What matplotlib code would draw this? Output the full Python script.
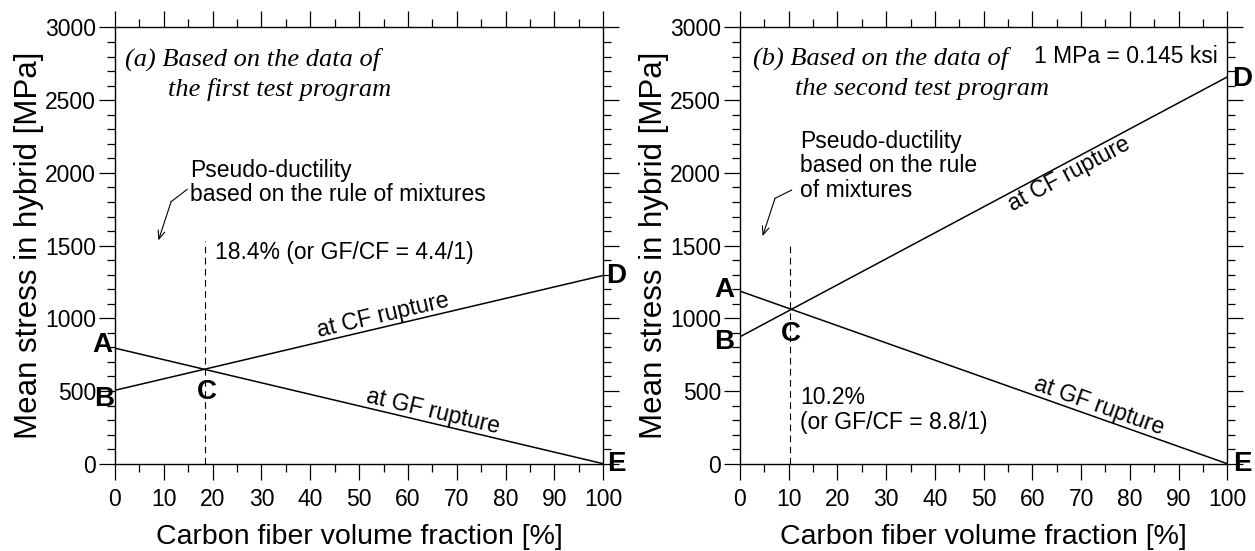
import numpy as np
import matplotlib.pyplot as plt

plt.rcParams['font.family'] = ['Liberation Sans', 'DejaVu Sans']

# carbon fiber volume fraction [%] at the ends of each line
vf = [0, 100]

# (a) first test program
gf_a = [795, 0]       # at GF rupture: A -> E
cf_a = [505, 1295]    # at CF rupture: B -> D
vc_a = 18.4

# (b) second test program
gf_b = [1187, 0]
cf_b = [873, 2660]
vc_b = 10.2

xticks = np.arange(0, 101, 10)
yticks = np.arange(0, 3001, 500)

fig = plt.figure(figsize=(12.55, 5.51), dpi=100)
ax1 = fig.add_axes([0.0916, 0.1584, 0.3891, 0.7917])
ax2 = fig.add_axes([0.5896, 0.1584, 0.3883, 0.7917])

serif = ['Liberation Serif', 'DejaVu Serif']


def style(ax):
    ax.set_xlim(0, 100)
    ax.set_ylim(0, 3000)
    ax.set_xticks(xticks)
    ax.set_xticks(np.arange(0, 101, 5), minor=True)
    ax.set_yticks(yticks)
    ax.set_yticks(np.arange(0, 3001, 100), minor=True)
    ax.tick_params(which='both', direction='out', top=True, right=True,
                   width=0.9, colors='black', labelsize=16.5)
    ax.tick_params(which='major', length=11.5, pad=2)
    ax.tick_params(which='minor', length=5.8)
    ax.tick_params(axis='x', which='major', pad=6)
    for s in ax.spines.values():
        s.set_linewidth(1.0)
    ax.set_xlabel('Carbon fiber volume fraction [%]', fontsize=20.5)
    ax.set_ylabel('Mean stress in hybrid [MPa]', fontsize=22.5)
    ax.xaxis.set_label_coords(0.5, -0.138)
    ax.yaxis.set_label_coords(-0.145, 0.5)


def slope_text(ax, txt, x, ys, below=False):
    # label placed along a straight line
    k = (ys[1] - ys[0]) / (vf[1] - vf[0])
    y = ys[0] + k * (x - vf[0])
    ang = np.degrees(np.arctan(k))
    ax.text(x, y, txt, fontsize=16.5, rotation=ang, rotation_mode='anchor',
            transform_rotates_text=True, ha='center',
            va='top' if below else 'bottom')


def bent_arrow(ax, pts):
    xs, ys = zip(*pts)
    ax.plot(xs[:2], ys[:2], color='black', lw=0.8)
    ax.annotate('', xy=pts[2], xytext=pts[1],
                arrowprops=dict(arrowstyle='->,head_length=0.6,head_width=0.25',
                                lw=0.8, color='black', shrinkA=0, shrinkB=0))


for ax in (ax1, ax2):
    style(ax)

# ---- (a) ----
ax1.plot(vf, gf_a, color='black', lw=1.1)
ax1.plot(vf, cf_a, color='black', lw=1.1)
ax1.plot([vc_a, vc_a], [0, 1530], color='black', lw=0.8, dashes=(6, 4))
slope_text(ax1, 'at CF rupture', 55.5, cf_a)
slope_text(ax1, 'at GF rupture', 64.5, gf_a)
ax1.text(0.0215, 0.928, '(a) Based on the data of', transform=ax1.transAxes,
         family=serif, style='italic', fontsize=19, va='center')
ax1.text(0.108, 0.858, 'the first test program', transform=ax1.transAxes,
         family=serif, style='italic', fontsize=19, va='center')
ax1.text(15.4, 1935, 'Pseudo-ductility\nbased on the rule of mixtures',
         fontsize=16.5, va='center', linespacing=1.08)
bent_arrow(ax1, [(14.8, 1887), (11.5, 1802), (8.9, 1536)])
ax1.text(20.5, 1450, '18.4% (or GF/CF = 4.4/1)', fontsize=16.5, va='center')
for lab, x, y in [('A', -2.5, 816), ('B', -2.3, 445), ('C', 18.9, 490),
                  ('D', 102.6, 1291), ('E', 102.6, 0)]:
    ax1.text(x, y, lab, fontsize=20, fontweight='bold', ha='center',
             va='center', clip_on=False)

# ---- (b) ----
ax2.plot(vf, gf_b, color='black', lw=1.1)
ax2.plot(vf, cf_b, color='black', lw=1.1)
ax2.plot([vc_b, vc_b], [0, 1520], color='black', lw=0.8, dashes=(6, 4))
slope_text(ax2, 'at CF rupture', 66.5, cf_b, below=True)
slope_text(ax2, 'at GF rupture', 73.0, gf_b)
ax2.text(0.0275, 0.929, '(b) Based on the data of', transform=ax2.transAxes,
         family=serif, style='italic', fontsize=19, va='center')
ax2.text(0.112, 0.859, 'the second test program', transform=ax2.transAxes,
         family=serif, style='italic', fontsize=19, va='center')
ax2.text(0.9815, 0.933, '1 MPa = 0.145 ksi', transform=ax2.transAxes,
         fontsize=16.5, ha='right', va='center')
ax2.text(12.3, 2050, 'Pseudo-ductility\nbased on the rule\nof mixtures',
         fontsize=16.5, va='center', linespacing=1.08)
bent_arrow(ax2, [(10.6, 1882), (7.2, 1825), (4.65, 1565)])
ax2.text(12.3, 370, '10.2%\n(or GF/CF = 8.8/1)', fontsize=16.5, va='center',
         linespacing=1.08)
for lab, x, y in [('A', -3.3, 1195), ('B', -3.3, 834), ('C', 10.5, 892),
                  ('D', 103.0, 2646), ('E', 103.0, 0)]:
    ax2.text(x, y, lab, fontsize=20, fontweight='bold', ha='center',
             va='center', clip_on=False)

fig.savefig('out.png', dpi=100)
